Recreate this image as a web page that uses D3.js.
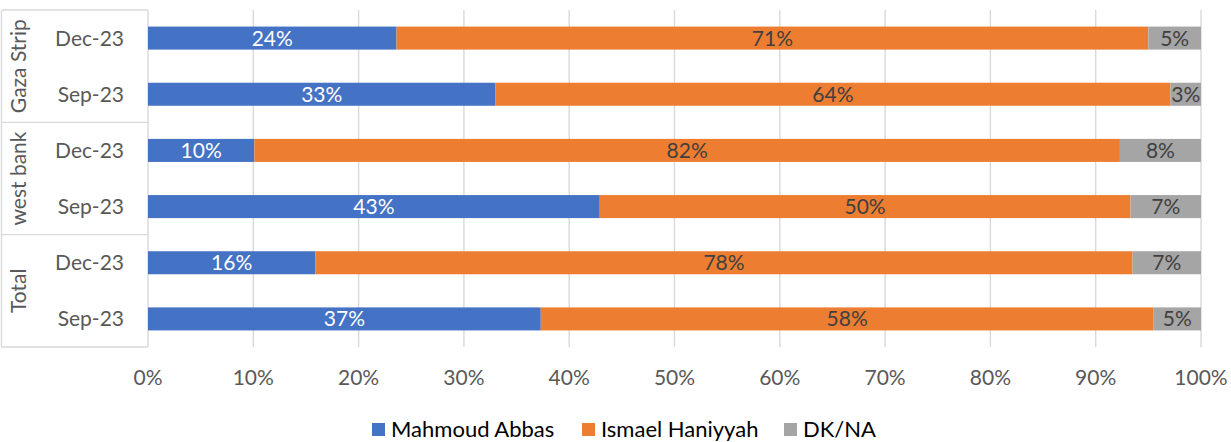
<!DOCTYPE html>
<html><head><meta charset="utf-8">
<script src="https://cdn.jsdelivr.net/npm/d3@7"></script>
<style>html,body{margin:0;padding:0;background:#fff;}svg{display:block;}</style>
</head><body>
<svg id="c" width="1231" height="442"></svg>
<script>
const regions = ["Gaza Strip", "west bank", "Total"];
const periods = ["Dec-23", "Sep-23"];
const series = ["Mahmoud Abbas", "Ismael Haniyyah", "DK/NA"];
const colors = ["#4472C4", "#ED7D31", "#A5A5A5"];
const labelColors = ["#ffffff", "#404040", "#404040"];
// rows in display order: region x period
const abbas    = [23.6, 33.0, 10.1, 42.9, 15.9, 37.3];
const haniyyah = [71.4, 64.1, 82.2, 50.4, 77.6, 58.2];
const dkna     = [5.0, 2.9, 7.7, 6.7, 6.5, 4.5];
const xTicks = [0,10,20,30,40,50,60,70,80,90,100];

(function(){
const rows = [];
regions.forEach((r,i)=>periods.forEach((p,j)=>{
  const k = i*periods.length + j;
  rows.push({id: r+"|"+p, region:r, period:p, vals:[abbas[k], haniyyah[k], dkna[k]]});
}));

const svg = d3.select("#c");
const font = "Lato, 'Open Sans', sans-serif";
const pL = 148, pR = 1201, pT = 10, pB = 347;
const x = d3.scaleLinear().domain([0,100]).range([pL,pR]);
const y = d3.scaleBand().domain(rows.map(d=>d.id)).range([pT,pB]).paddingInner(0.59).paddingOuter(0.295);
const g = d3.scaleBand().domain(regions).range([pT,pB]);
const grid = "#d9d9d9";

svg.append("g").selectAll("line").data(xTicks).join("line")
  .attr("x1",d=>x(d)).attr("x2",d=>x(d)).attr("y1",pT).attr("y2",pB)
  .attr("stroke",grid).attr("stroke-width",1.4);

const box = svg.append("g").attr("stroke",grid).attr("stroke-width",1.4);
box.append("line").attr("x1",1.5).attr("x2",1.5).attr("y1",pT).attr("y2",pB);
const bounds = regions.map(r=>g(r)).concat([pB]);
box.selectAll("line.h").data(bounds).join("line").attr("class","h")
  .attr("x1",1.5).attr("x2",pL).attr("y1",d=>d).attr("y2",d=>d);

const stack = rows.map(d=>{
  let acc=0; return d.vals.map((v,i)=>{const s={row:d,i,v,x0:acc,x1:acc+v}; acc+=v; return s;});
}).flat();
svg.append("g").selectAll("rect").data(stack).join("rect")
  .attr("x",d=>x(d.x0)).attr("width",d=>x(d.x1)-x(d.x0))
  .attr("y",d=>y(d.row.id)).attr("height",y.bandwidth())
  .attr("fill",d=>colors[d.i]);
svg.append("g").selectAll("text").data(stack).join("text")
  .attr("x",d=>(x(d.x0)+x(d.x1))/2).attr("y",d=>y(d.row.id)+y.bandwidth()/2)
  .attr("dy","0.36em").attr("text-anchor","middle")
  .attr("font-family",font).attr("font-size",21).attr("fill",d=>labelColors[d.i])
  .text(d=>Math.round(d.v)+"%");

svg.append("g").selectAll("text").data(xTicks).join("text")
  .attr("x",d=>x(d)).attr("y",385).attr("text-anchor","middle")
  .attr("font-family",font).attr("font-size",21).attr("fill","#595959")
  .text(d=>d+"%");

svg.append("g").selectAll("text").data(rows).join("text")
  .attr("x",124).attr("y",d=>y(d.id)+y.bandwidth()/2).attr("dy","0.36em")
  .attr("text-anchor","end").attr("font-family",font).attr("font-size",21).attr("fill","#595959")
  .text(d=>d.period);

svg.append("g").selectAll("text").data(regions).join("text")
  .attr("transform",d=>`translate(26,${g(d)+g.bandwidth()/2}) rotate(-90)`)
  .attr("text-anchor","middle").attr("font-family",font).attr("font-size",21).attr("fill","#595959")
  .text(d=>d);

const legX = [372, 582, 784];
const leg = svg.append("g").selectAll("g").data(series).join("g")
  .attr("transform",(d,i)=>`translate(${legX[i]},0)`);
leg.append("rect").attr("x",0).attr("y",423).attr("width",13).attr("height",13).attr("fill",(d,i)=>colors[i]);
leg.append("text").attr("x",19).attr("y",437).attr("font-family",font).attr("font-size",22).attr("fill","#000")
  .text(d=>d);
})();
</script>
</body></html>
